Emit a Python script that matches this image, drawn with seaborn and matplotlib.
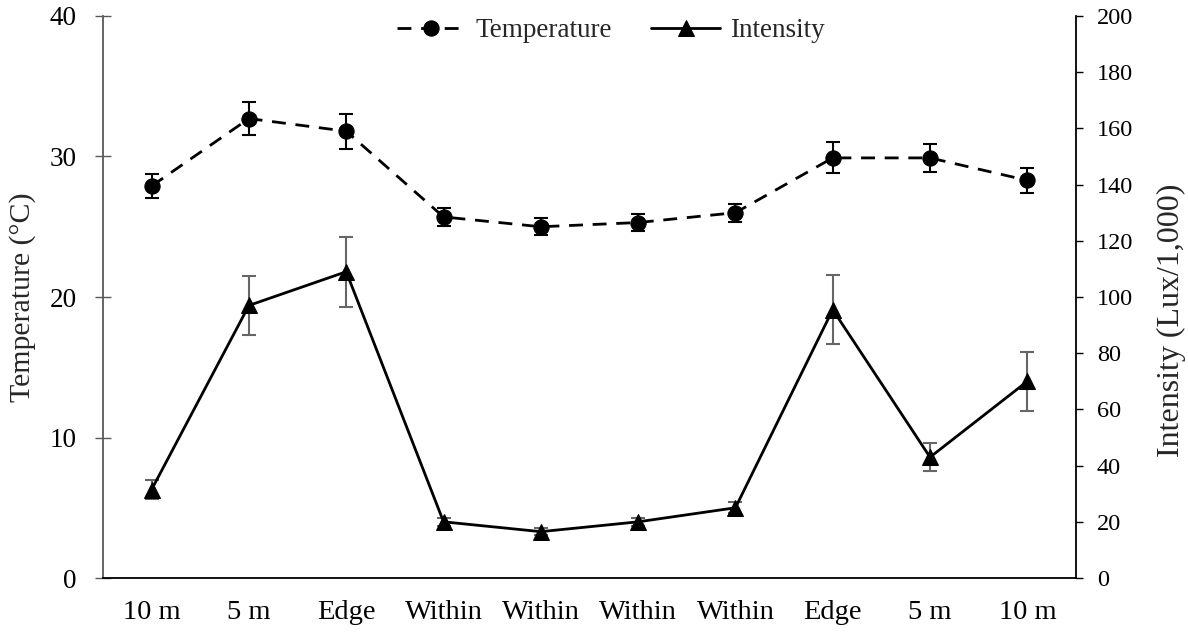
import seaborn as sns
from matplotlib import pyplot as plt
import numpy as np
import pandas as pd

# site positions along the transect
sites = ['10 m', '5 m', 'Edge', 'Within', 'Within', 'Within', 'Within', 'Edge', '5 m', '10 m']
temp = [27.9, 32.7, 31.8, 25.7, 25.0, 25.3, 26.0, 29.9, 29.9, 28.3]
temp_err = [0.85, 1.2, 1.25, 0.65, 0.6, 0.6, 0.65, 1.1, 1.0, 0.9]
intensity = [31.5, 97, 109, 20, 16.5, 20, 25, 95.5, 43, 70]
intensity_err = [3.5, 10.5, 12.5, 1.5, 1.2, 1.5, 2.0, 12.3, 5.0, 10.5]

df = pd.DataFrame({'pos': np.arange(len(sites)), 'temp': temp, 'intensity': intensity})

sns.set_theme(style='white')
plt.rcParams['font.family'] = ['Liberation Serif', 'DejaVu Serif']

fig = plt.figure(figsize=(11.88, 6.32), dpi=100)
ax = fig.add_axes([0.0867, 0.0854, 0.8190, 0.8893])
ax2 = ax.twinx()

ax.errorbar(df['pos'], df['temp'], yerr=temp_err, fmt='none', ecolor='black',
            elinewidth=1.5, capsize=5, capthick=1.5, zorder=2)
sns.lineplot(data=df, x='pos', y='temp', ax=ax, color='black', marker='o', markersize=11,
             linewidth=2, linestyle=(0, (5, 3.5)), markeredgecolor='black', label='Temperature',
             legend=False, zorder=3)

ax2.errorbar(df['pos'], df['intensity'], yerr=intensity_err, fmt='none', ecolor='#666666',
             elinewidth=1.5, capsize=5, capthick=1.5, zorder=2)
sns.lineplot(data=df, x='pos', y='intensity', ax=ax2, color='black', marker='^', markersize=11,
             linewidth=2, markeredgecolor='black', label='Intensity', legend=False, zorder=3)

ax.set_xlim(-0.5, len(sites) - 0.5)
ax.set_ylim(0, 40)
ax2.set_ylim(0, 200)
ax.set_yticks(range(0, 41, 10))
ax2.set_yticks(range(0, 201, 20))
ax.set_xticks(df['pos'])
ax.set_xticklabels(sites)

ax.tick_params(axis='x', length=0, labelsize=20.5, pad=16, colors='black')
ax.tick_params(axis='y', direction='inout', length=12, width=1, color='#595959',
               labelsize=19.5, pad=13, labelcolor='black')
ax2.tick_params(axis='y', direction='out', length=5, width=1, color='black',
                labelsize=17.5, pad=10, labelcolor='black')

ax.set_xlabel('')
ax.set_ylabel('Temperature (°C)', fontsize=21.5)
ax2.set_ylabel('Intensity (Lux/1,000)', fontsize=23)
ax.yaxis.set_label_coords(-0.069, 0.5)
ax2.yaxis.set_label_coords(1.083, 0.459)

for a in (ax, ax2):
    a.spines['top'].set_visible(False)
    a.grid(False)
ax.spines['right'].set_visible(False)
ax.spines['left'].set_color('#595959')
ax.spines['bottom'].set_color('black')
ax2.spines['left'].set_visible(False)
ax2.spines['bottom'].set_visible(False)
ax2.spines['right'].set_color('black')
for s in ax.spines.values():
    s.set_linewidth(1.3)
ax2.spines['right'].set_linewidth(1.3)

h1, l1 = ax.get_legend_handles_labels()
h2, l2 = ax2.get_legend_handles_labels()
ax2.legend(h1 + h2, l1 + l2, loc='upper center', bbox_to_anchor=(0.522, 1.039), ncol=2,
           frameon=False, fontsize=19.5, handlelength=2.55, columnspacing=1.45,
           handletextpad=0.37)

fig.savefig('out.png', dpi=100)
plt.close(fig)
